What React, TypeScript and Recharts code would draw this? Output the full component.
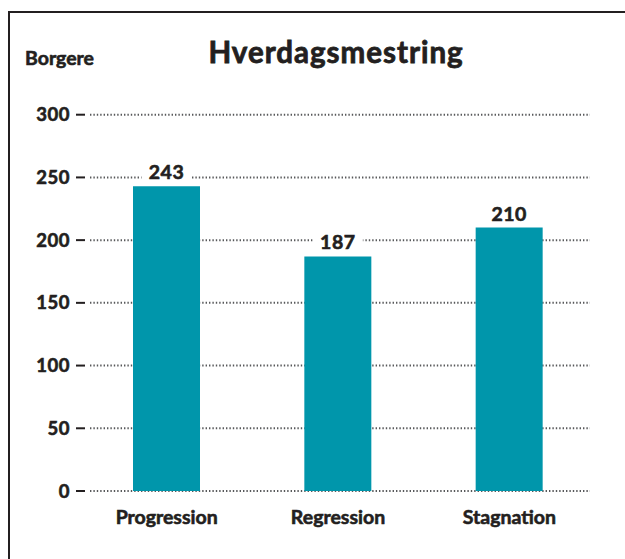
import { Bar, BarChart, CartesianGrid, LabelList, XAxis, YAxis } from "recharts";

const categories = ["Progression", "Regression", "Stagnation"];
const borgere = [243, 187, 210];
const yTicks = [0, 50, 100, 150, 200, 250, 300];

const data = categories.map((navn, i) => ({ navn, borgere: borgere[i] }));

const FONT = "Lato, 'DejaVu Sans', sans-serif";
const INK = "#231f20";
const TEAL = "#0096ab";

// Lato Black findes ikke, så teksten gøres lidt federe med en tynd kontur
const heavy = { stroke: INK, strokeWidth: 0.6, paintOrder: "stroke" } as const;

function YTick(props: any) {
  const { x, y, payload } = props;
  return (
    <g>
      <text
        x={x - 11}
        y={y}
        dy={6.5}
        textAnchor="end"
        fontFamily={FONT}
        fontWeight={700}
        fontSize={18.5}
        letterSpacing={0.5}
        fill={INK}
        {...heavy}
      >
        {payload.value}
      </text>
      <line x1={x - 5} x2={x + 4} y1={y} y2={y} stroke={INK} strokeWidth={2} />
    </g>
  );
}

function XTick(props: any) {
  const { x, y, payload } = props;
  return (
    <text
      x={x}
      y={y}
      dy={24.5}
      textAnchor="middle"
      fontFamily={FONT}
      fontWeight={700}
      fontSize={19.5}
      fill={INK}
      {...heavy}
    >
      {payload.value}
    </text>
  );
}

function ValueLabel(props: any) {
  const { x, y, width, value } = props;
  const cx = x + width / 2;
  return (
    <g>
      <rect x={cx - 25} y={y - 27} width={50} height={23} fill="#fff" />
      <text
        x={cx}
        y={y - 7}
        textAnchor="middle"
        fontFamily={FONT}
        fontWeight={700}
        fontSize={19.5}
        letterSpacing={0.5}
        fill={INK}
        {...heavy}
      >
        {value}
      </text>
    </g>
  );
}

export default function App() {
  return (
    <div
      style={{
        position: "absolute",
        left: 0,
        top: 0,
        width: 625,
        height: 559,
        background: "#fff",
        overflow: "hidden",
      }}
    >
      {/* rammen: kun top og venstre side er med i udsnittet */}
      <div
        style={{
          position: "absolute",
          left: 8,
          top: 11,
          width: 640,
          height: 600,
          borderTop: `2.5px solid ${INK}`,
          borderLeft: `2.5px solid ${INK}`,
        }}
      />
      <div
        style={{
          position: "absolute",
          left: 25,
          top: 45.5,
          fontFamily: FONT,
          fontWeight: 700,
          fontSize: 19.5,
          color: INK,
          WebkitTextStroke: `0.6px ${INK}`,
        }}
      >
        Borgere
      </div>
      <div
        style={{
          position: "absolute",
          left: 136,
          width: 400,
          top: 34,
          textAlign: "center",
          fontFamily: FONT,
          fontWeight: 700,
          fontSize: 29.5,
          letterSpacing: 1,
          color: INK,
          WebkitTextStroke: `0.8px ${INK}`,
        }}
      >
        Hverdagsmestring
      </div>
      <div style={{ position: "absolute", left: 0, top: 0 }}>
        <BarChart
          width={625}
          height={559}
          data={data}
          margin={{ top: 114.7, right: 30, bottom: 0, left: 0 }}
          barSize={67}
        >
          <CartesianGrid
            horizontal
            vertical={false}
            x={90}
            width={500}
            stroke="#58595b"
            strokeWidth={2}
            strokeDasharray="1.4 2"
          />
          <XAxis
            dataKey="navn"
            height={68}
            axisLine={false}
            tickLine={false}
            tick={<XTick />}
            interval={0}
          />
          <YAxis
            width={81}
            domain={[0, 300]}
            ticks={yTicks}
            axisLine={false}
            tickLine={false}
            tickSize={0}
            tickMargin={0}
            tick={<YTick />}
          />
          <Bar dataKey="borgere" fill={TEAL} isAnimationActive={false}>
            <LabelList dataKey="borgere" content={<ValueLabel />} />
          </Bar>
        </BarChart>
      </div>
    </div>
  );
}
